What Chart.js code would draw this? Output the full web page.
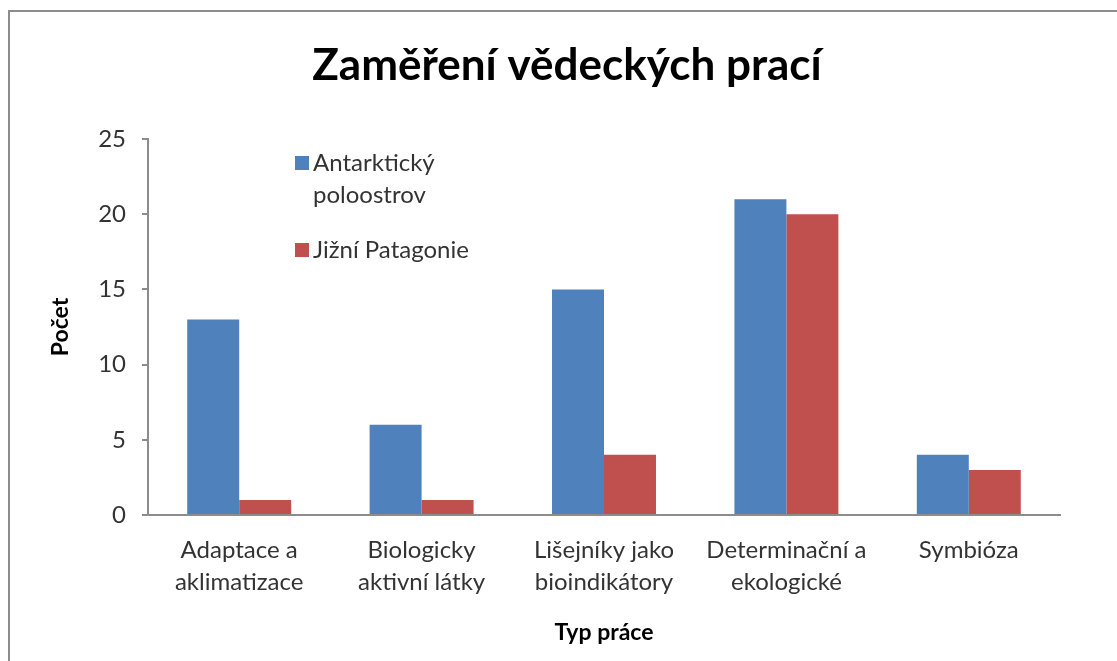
<!DOCTYPE html>
<html>
<head>
<meta charset="utf-8">
<script src="https://cdn.jsdelivr.net/npm/chart.js@4.4.1/dist/chart.umd.min.js"></script>
<style>
  html, body { margin: 0; padding: 0; background: #fff; }
  #wrap { position: relative; width: 1117px; height: 661px; overflow: hidden; }
  #frame { position: absolute; left: 8px; top: 10px; width: 1200px; height: 800px;
           border-left: 2px solid #8c8c8c; border-top: 2px solid #8c8c8c; }
  canvas { position: absolute; left: 0; top: 0; }
</style>
</head>
<body>
<div id="wrap">
  <div id="frame"></div>
  <canvas id="c" width="1117" height="661"></canvas>
</div>
<script>
const chartTitle = 'Zaměření vědeckých prací';
const categories = [
  ['Adaptace a', 'aklimatizace'],
  ['Biologicky', 'aktivní látky'],
  ['Lišejníky jako', 'bioindikátory'],
  ['Determinační a', 'ekologické'],
  ['Symbióza']
];
const seriesNames = ['Antarktický poloostrov', 'Jižní Patagonie'];
const antarktickyValues = [13, 6, 15, 21, 4];
const patagonieValues = [1, 1, 4, 20, 3];
const yTicks = [0, 5, 10, 15, 20, 25];
const xAxisTitle = 'Typ práce';
const yAxisTitle = 'Počet';

const FONT = 'Lato, "Open Sans", sans-serif';
const BLUE = '#4F81BD';
const RED = '#C0504D';
const TXT = '#333333';

const titleDraw = {
  id: 'titleDraw',
  afterDraw(chart) {
    const ctx = chart.ctx;
    ctx.save();
    ctx.font = 'bold 44px ' + FONT;
    ctx.fillStyle = '#000';
    ctx.textAlign = 'center';
    ctx.textBaseline = 'middle';
    ctx.fillText(chartTitle, 567, 66);
    ctx.restore();
  }
};

const legendInside = {
  id: 'legendInside',
  afterDraw(chart) {
    const ctx = chart.ctx;
    ctx.save();
    ctx.font = '24px ' + FONT;
    ctx.textBaseline = 'middle';
    ctx.textAlign = 'left';
    const boxX = 295, textX = 313, lineH = 32, maxW = 180, box = 14;
    let y = 163;
    chart.data.datasets.forEach((ds) => {
      const words = ds.label.split(' ');
      const lines = [];
      let cur = '';
      words.forEach(w => {
        const t = cur ? cur + ' ' + w : w;
        if (cur && ctx.measureText(t).width > maxW) { lines.push(cur); cur = w; }
        else cur = t;
      });
      if (cur) lines.push(cur);
      ctx.fillStyle = ds.backgroundColor;
      ctx.fillRect(boxX, y - box / 2, box, box);
      ctx.fillStyle = TXT;
      lines.forEach((ln, k) => ctx.fillText(ln, textX, y + k * lineH));
      y += lines.length * lineH + 23;
    });
    ctx.restore();
  }
};

new Chart(document.getElementById('c'), {
  type: 'bar',
  data: {
    labels: categories,
    datasets: [
      { label: seriesNames[0], data: antarktickyValues, backgroundColor: BLUE,
        categoryPercentage: 0.57, barPercentage: 1.0 },
      { label: seriesNames[1], data: patagonieValues, backgroundColor: RED,
        categoryPercentage: 0.57, barPercentage: 1.0 }
    ]
  },
  options: {
    responsive: false,
    animation: false,
    events: [],
    layout: { padding: { left: 0, right: 57, top: 139, bottom: 0 } },
    plugins: {
      legend: { display: false },
      tooltip: { enabled: false },
      title: { display: false }
    },
    scales: {
      x: {
        grid: { display: false, drawTicks: false },
        border: { display: true, color: '#8c8c8c', width: 2 },
        ticks: {
          color: TXT,
          font: { family: FONT, size: 24, lineHeight: 1.3 },
          padding: 20,
          maxRotation: 0, autoSkip: false
        },
        title: {
          display: true, text: xAxisTitle, color: '#000',
          font: { family: FONT, size: 23, weight: 'bold', lineHeight: 1.2 },
          padding: { top: 0, bottom: 15 }
        },
        afterFit(scale) { scale.height = 661 - 515; }
      },
      y: {
        min: 0, max: 25,
        afterBuildTicks(scale) { scale.ticks = yTicks.map(v => ({ value: v })); },
        grid: { drawOnChartArea: false, drawTicks: true, tickLength: 6, color: '#8c8c8c', lineWidth: 2 },
        border: { display: true, color: '#8c8c8c', width: 2 },
        ticks: {
          color: TXT,
          font: { family: FONT, size: 24 },
          padding: 16
        },
        title: {
          display: true, text: yAxisTitle, color: '#000',
          font: { family: FONT, size: 23, weight: 'bold', lineHeight: 1.2 },
          padding: { top: 47, bottom: 0 }
        },
        afterFit(scale) { scale.width = 148; }
      }
    }
  },
  plugins: [titleDraw, legendInside]
});
</script>
</body>
</html>
